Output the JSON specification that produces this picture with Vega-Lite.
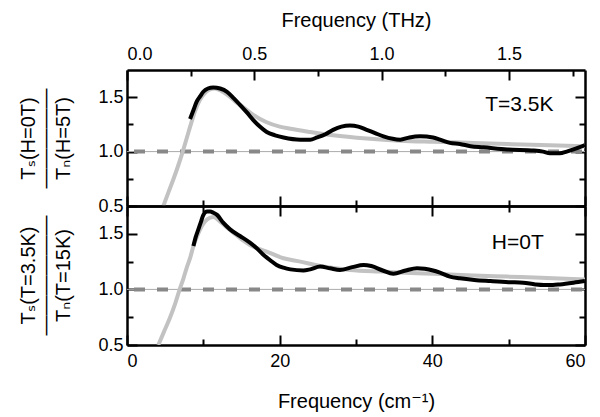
{
  "$schema": "https://vega.github.io/schema/vega-lite/v6.json",
  "autosize": {"type": "none"},
  "padding": {"left": 127, "top": 70, "right": 473, "bottom": 347},
  "bounds": "flush",
  "spacing": 0,
  "config": {
    "font": "Liberation Sans, DejaVu Sans",
    "view": {"stroke": null},
    "axis": {
      "domainColor": "black", "domainWidth": 2.5, "tickColor": "black", "tickWidth": 2,
      "grid": false, "labelFont": "Liberation Sans, DejaVu Sans", "labelFontSize": 18, "labelColor": "black",
      "titleFont": "Liberation Sans, DejaVu Sans", "titleFontWeight": "normal", "titleColor": "black", "titleFontSize": 20
    }
  },
  "datasets": {
    "one": [{"level": 1}],
    "curves": [
      {"panel": "top", "s": "theory", "x": 4.76, "y": 0.5},
      {"panel": "top", "s": "theory", "x": 5.45, "y": 0.63},
      {"panel": "top", "s": "theory", "x": 6.1, "y": 0.75},
      {"panel": "top", "s": "theory", "x": 6.7, "y": 0.87},
      {"panel": "top", "s": "theory", "x": 7.3, "y": 1.0},
      {"panel": "top", "s": "theory", "x": 7.85, "y": 1.13},
      {"panel": "top", "s": "theory", "x": 8.4, "y": 1.26},
      {"panel": "top", "s": "theory", "x": 8.95, "y": 1.38},
      {"panel": "top", "s": "theory", "x": 9.5, "y": 1.47},
      {"panel": "top", "s": "theory", "x": 10.1, "y": 1.53},
      {"panel": "top", "s": "theory", "x": 10.8, "y": 1.57},
      {"panel": "top", "s": "theory", "x": 11.5, "y": 1.58},
      {"panel": "top", "s": "theory", "x": 12.3, "y": 1.56},
      {"panel": "top", "s": "theory", "x": 13.2, "y": 1.52},
      {"panel": "top", "s": "theory", "x": 14.2, "y": 1.46},
      {"panel": "top", "s": "theory", "x": 15.2, "y": 1.41},
      {"panel": "top", "s": "theory", "x": 16.5, "y": 1.34},
      {"panel": "top", "s": "theory", "x": 18.3, "y": 1.27},
      {"panel": "top", "s": "theory", "x": 20.0, "y": 1.23},
      {"panel": "top", "s": "theory", "x": 21.4, "y": 1.21},
      {"panel": "top", "s": "theory", "x": 24.0, "y": 1.18},
      {"panel": "top", "s": "theory", "x": 27.0, "y": 1.15},
      {"panel": "top", "s": "theory", "x": 31.4, "y": 1.12},
      {"panel": "top", "s": "theory", "x": 35.8, "y": 1.1},
      {"panel": "top", "s": "theory", "x": 40.1, "y": 1.09},
      {"panel": "top", "s": "theory", "x": 45.4, "y": 1.08},
      {"panel": "top", "s": "theory", "x": 49.8, "y": 1.07},
      {"panel": "top", "s": "theory", "x": 54.2, "y": 1.06},
      {"panel": "top", "s": "theory", "x": 60, "y": 1.05},
      {"panel": "top", "s": "data", "x": 8.26, "y": 1.3},
      {"panel": "top", "s": "data", "x": 8.7, "y": 1.38},
      {"panel": "top", "s": "data", "x": 9.13, "y": 1.46},
      {"panel": "top", "s": "data", "x": 9.6, "y": 1.51},
      {"panel": "top", "s": "data", "x": 10.0, "y": 1.55},
      {"panel": "top", "s": "data", "x": 10.6, "y": 1.58},
      {"panel": "top", "s": "data", "x": 11.3, "y": 1.59},
      {"panel": "top", "s": "data", "x": 12.2, "y": 1.58},
      {"panel": "top", "s": "data", "x": 13.1, "y": 1.55},
      {"panel": "top", "s": "data", "x": 14.0, "y": 1.49},
      {"panel": "top", "s": "data", "x": 14.8, "y": 1.43},
      {"panel": "top", "s": "data", "x": 15.7, "y": 1.36},
      {"panel": "top", "s": "data", "x": 16.55, "y": 1.29},
      {"panel": "top", "s": "data", "x": 17.4, "y": 1.23},
      {"panel": "top", "s": "data", "x": 18.3, "y": 1.18},
      {"panel": "top", "s": "data", "x": 19.4, "y": 1.15},
      {"panel": "top", "s": "data", "x": 20.5, "y": 1.13},
      {"panel": "top", "s": "data", "x": 22.7, "y": 1.11},
      {"panel": "top", "s": "data", "x": 24.0, "y": 1.11},
      {"panel": "top", "s": "data", "x": 24.9, "y": 1.13},
      {"panel": "top", "s": "data", "x": 26.0, "y": 1.16},
      {"panel": "top", "s": "data", "x": 27.0, "y": 1.2},
      {"panel": "top", "s": "data", "x": 28.1, "y": 1.23},
      {"panel": "top", "s": "data", "x": 29.2, "y": 1.24},
      {"panel": "top", "s": "data", "x": 30.3, "y": 1.23},
      {"panel": "top", "s": "data", "x": 31.4, "y": 1.2},
      {"panel": "top", "s": "data", "x": 32.5, "y": 1.17},
      {"panel": "top", "s": "data", "x": 33.6, "y": 1.14},
      {"panel": "top", "s": "data", "x": 35.8, "y": 1.11},
      {"panel": "top", "s": "data", "x": 37.0, "y": 1.13},
      {"panel": "top", "s": "data", "x": 38.4, "y": 1.14},
      {"panel": "top", "s": "data", "x": 40.1, "y": 1.13},
      {"panel": "top", "s": "data", "x": 41.0, "y": 1.11},
      {"panel": "top", "s": "data", "x": 42.3, "y": 1.08},
      {"panel": "top", "s": "data", "x": 43.6, "y": 1.07},
      {"panel": "top", "s": "data", "x": 45.0, "y": 1.05},
      {"panel": "top", "s": "data", "x": 46.7, "y": 1.04},
      {"panel": "top", "s": "data", "x": 49.8, "y": 1.02},
      {"panel": "top", "s": "data", "x": 53.3, "y": 1.01},
      {"panel": "top", "s": "data", "x": 54.5, "y": 1.0},
      {"panel": "top", "s": "data", "x": 55.4, "y": 0.985},
      {"panel": "top", "s": "data", "x": 56.7, "y": 0.985},
      {"panel": "top", "s": "data", "x": 57.6, "y": 1.0},
      {"panel": "top", "s": "data", "x": 58.5, "y": 1.02},
      {"panel": "top", "s": "data", "x": 60, "y": 1.06},
      {"panel": "bottom", "s": "theory", "x": 4.1, "y": 0.5},
      {"panel": "bottom", "s": "theory", "x": 4.85, "y": 0.62},
      {"panel": "bottom", "s": "theory", "x": 5.6, "y": 0.74},
      {"panel": "bottom", "s": "theory", "x": 6.3, "y": 0.87},
      {"panel": "bottom", "s": "theory", "x": 6.9, "y": 1.0},
      {"panel": "bottom", "s": "theory", "x": 7.4, "y": 1.1},
      {"panel": "bottom", "s": "theory", "x": 7.8, "y": 1.19},
      {"panel": "bottom", "s": "theory", "x": 8.3, "y": 1.29},
      {"panel": "bottom", "s": "theory", "x": 8.7, "y": 1.39},
      {"panel": "bottom", "s": "theory", "x": 9.2, "y": 1.48},
      {"panel": "bottom", "s": "theory", "x": 9.8, "y": 1.57},
      {"panel": "bottom", "s": "theory", "x": 10.5, "y": 1.63},
      {"panel": "bottom", "s": "theory", "x": 11.3, "y": 1.65},
      {"panel": "bottom", "s": "theory", "x": 12.2, "y": 1.61},
      {"panel": "bottom", "s": "theory", "x": 13.2, "y": 1.55},
      {"panel": "bottom", "s": "theory", "x": 14.3, "y": 1.49},
      {"panel": "bottom", "s": "theory", "x": 15.2, "y": 1.44},
      {"panel": "bottom", "s": "theory", "x": 16.1, "y": 1.4},
      {"panel": "bottom", "s": "theory", "x": 18.3, "y": 1.34},
      {"panel": "bottom", "s": "theory", "x": 20.5, "y": 1.28},
      {"panel": "bottom", "s": "theory", "x": 22.7, "y": 1.25},
      {"panel": "bottom", "s": "theory", "x": 25.3, "y": 1.21},
      {"panel": "bottom", "s": "theory", "x": 29.2, "y": 1.175},
      {"panel": "bottom", "s": "theory", "x": 33.6, "y": 1.16},
      {"panel": "bottom", "s": "theory", "x": 38.0, "y": 1.145},
      {"panel": "bottom", "s": "theory", "x": 42.3, "y": 1.135},
      {"panel": "bottom", "s": "theory", "x": 45.4, "y": 1.125},
      {"panel": "bottom", "s": "theory", "x": 49.8, "y": 1.115},
      {"panel": "bottom", "s": "theory", "x": 54.2, "y": 1.105},
      {"panel": "bottom", "s": "theory", "x": 60, "y": 1.09},
      {"panel": "bottom", "s": "data", "x": 8.7, "y": 1.39},
      {"panel": "bottom", "s": "data", "x": 9.0, "y": 1.47},
      {"panel": "bottom", "s": "data", "x": 9.35, "y": 1.54},
      {"panel": "bottom", "s": "data", "x": 9.7, "y": 1.61},
      {"panel": "bottom", "s": "data", "x": 10.0, "y": 1.67},
      {"panel": "bottom", "s": "data", "x": 10.5, "y": 1.7},
      {"panel": "bottom", "s": "data", "x": 10.9, "y": 1.7},
      {"panel": "bottom", "s": "data", "x": 11.3, "y": 1.69},
      {"panel": "bottom", "s": "data", "x": 11.8, "y": 1.67},
      {"panel": "bottom", "s": "data", "x": 12.6, "y": 1.6},
      {"panel": "bottom", "s": "data", "x": 13.5, "y": 1.54},
      {"panel": "bottom", "s": "data", "x": 14.8, "y": 1.48},
      {"panel": "bottom", "s": "data", "x": 16.1, "y": 1.42},
      {"panel": "bottom", "s": "data", "x": 17.0, "y": 1.37},
      {"panel": "bottom", "s": "data", "x": 17.9, "y": 1.31},
      {"panel": "bottom", "s": "data", "x": 18.8, "y": 1.26},
      {"panel": "bottom", "s": "data", "x": 19.6, "y": 1.22},
      {"panel": "bottom", "s": "data", "x": 20.5, "y": 1.195},
      {"panel": "bottom", "s": "data", "x": 21.4, "y": 1.18},
      {"panel": "bottom", "s": "data", "x": 23.1, "y": 1.17},
      {"panel": "bottom", "s": "data", "x": 24.0, "y": 1.18},
      {"panel": "bottom", "s": "data", "x": 25.3, "y": 1.205},
      {"panel": "bottom", "s": "data", "x": 26.6, "y": 1.19},
      {"panel": "bottom", "s": "data", "x": 27.9, "y": 1.175},
      {"panel": "bottom", "s": "data", "x": 29.5, "y": 1.2},
      {"panel": "bottom", "s": "data", "x": 31.0, "y": 1.22},
      {"panel": "bottom", "s": "data", "x": 32.0, "y": 1.21},
      {"panel": "bottom", "s": "data", "x": 33.5, "y": 1.17},
      {"panel": "bottom", "s": "data", "x": 34.9, "y": 1.14},
      {"panel": "bottom", "s": "data", "x": 36.5, "y": 1.17},
      {"panel": "bottom", "s": "data", "x": 38.0, "y": 1.19},
      {"panel": "bottom", "s": "data", "x": 39.0, "y": 1.185},
      {"panel": "bottom", "s": "data", "x": 40.1, "y": 1.17},
      {"panel": "bottom", "s": "data", "x": 41.0, "y": 1.15},
      {"panel": "bottom", "s": "data", "x": 42.3, "y": 1.115},
      {"panel": "bottom", "s": "data", "x": 43.6, "y": 1.1},
      {"panel": "bottom", "s": "data", "x": 45.5, "y": 1.085},
      {"panel": "bottom", "s": "data", "x": 47.6, "y": 1.075},
      {"panel": "bottom", "s": "data", "x": 50.0, "y": 1.065},
      {"panel": "bottom", "s": "data", "x": 51.9, "y": 1.06},
      {"panel": "bottom", "s": "data", "x": 53.5, "y": 1.045},
      {"panel": "bottom", "s": "data", "x": 54.6, "y": 1.04},
      {"panel": "bottom", "s": "data", "x": 55.8, "y": 1.04},
      {"panel": "bottom", "s": "data", "x": 56.7, "y": 1.045},
      {"panel": "bottom", "s": "data", "x": 58.5, "y": 1.06},
      {"panel": "bottom", "s": "data", "x": 60, "y": 1.075}
    ],
    "notes": [
      {"panel": "top", "x": 51.4, "y": 1.427, "label": "T=3.5K"},
      {"panel": "bottom", "x": 51.2, "y": 1.42, "label": "H=0T"}
    ]
  },
  "vconcat": [
    {
      "width": 458,
      "height": 136,
      "resolve": {"axis": {"x": "independent", "y": "independent"}},
      "layer": [
        {
          "data": {"name": "one"},
          "mark": {"type": "rule", "color": "#aaaaaa", "strokeWidth": 1},
          "encoding": {"y": {"field": "level", "type": "quantitative", "scale": {"domain": [0.5, 1.75], "nice": false, "zero": false}, "axis": null}}
        },
        {
          "data": {"name": "one"},
          "mark": {"type": "rule", "color": "#888888", "strokeWidth": 4, "strokeDash": [11, 12], "strokeDashOffset": -3},
          "encoding": {"y": {"field": "level", "type": "quantitative", "scale": {"domain": [0.5, 1.75], "nice": false, "zero": false}, "axis": null}}
        },
        {
          "data": {"name": "curves"},
          "transform": [{"filter": "datum.panel === 'top' && datum.s === 'theory'"}],
          "mark": {"type": "line", "color": "#c2c2c2", "strokeWidth": 4, "interpolate": "monotone", "clip": true},
          "encoding": {
            "x": {"field": "x", "type": "quantitative", "scale": {"domain": [0, 60], "nice": false, "zero": false},
              "axis": {"orient": "bottom", "title": null, "labels": false, "values": [0, 10, 20, 30, 40, 50, 60],
                "tickSize": {"condition": {"test": "datum.value % 20 === 0", "value": -10}, "value": -6}}},
            "y": {"field": "y", "type": "quantitative", "scale": {"domain": [0.5, 1.75], "nice": false, "zero": false},
              "axis": {"orient": "left", "values": [0.5, 0.75, 1.0, 1.25, 1.5],
                "labelExpr": "(datum.value * 2) % 1 === 0 ? format(datum.value, '.1f') : ''",
                "labelPadding": 14,
                "tickSize": {"condition": {"test": "(datum.value * 2) % 1 === 0", "value": -10}, "value": -6},
                "title": ["Tₛ(H=0T)", "—————", "Tₙ(H=5T)"],
                "titleLineHeight": 17.5, "titleBaseline": "middle", "titleAngle": 270,
                "titleX": -99, "titleY": 68, "titleFontSize": 20}}
          }
        },
        {
          "data": {"name": "curves"},
          "transform": [{"filter": "datum.panel === 'top' && datum.s === 'data'"}],
          "mark": {"type": "line", "color": "black", "strokeWidth": 4, "interpolate": "monotone", "clip": true},
          "encoding": {
            "x": {"field": "x", "type": "quantitative", "scale": {"domain": [0, 60], "nice": false, "zero": false},
              "axis": {"orient": "top", "title": "Frequency (THz)", "titlePadding": 15,
                "values": [0, 8.339, 16.678, 25.017, 33.356, 41.695, 50.034, 58.373],
                "labelExpr": "round(datum.value / 33.356 * 4) % 2 === 0 ? format(datum.value / 33.356, '.1f') : ''",
                "labelPadding": 17,
                "tickSize": {"condition": {"test": "round(datum.value / 33.356 * 4) % 2 === 0", "value": -10}, "value": -6}}},
            "y": {"field": "y", "type": "quantitative", "scale": {"domain": [0.5, 1.75], "nice": false, "zero": false},
              "axis": {"orient": "right", "title": null, "labels": false, "values": [0.5, 0.75, 1.0, 1.25, 1.5],
                "tickSize": {"condition": {"test": "(datum.value * 2) % 1 === 0", "value": -10}, "value": -6}}}
          }
        },
        {
          "data": {"name": "notes"},
          "transform": [{"filter": "datum.panel === 'top'"}],
          "mark": {"type": "text", "fontSize": 21, "align": "center", "baseline": "middle", "color": "black"},
          "encoding": {
            "x": {"field": "x", "type": "quantitative", "scale": {"domain": [0, 60], "nice": false, "zero": false}, "axis": null},
            "y": {"field": "y", "type": "quantitative", "scale": {"domain": [0.5, 1.75], "nice": false, "zero": false}, "axis": null},
            "text": {"field": "label"}
          }
        }
      ]
    },
    {
      "width": 458,
      "height": 139,
      "resolve": {"axis": {"x": "independent", "y": "independent"}},
      "layer": [
        {
          "data": {"name": "one"},
          "mark": {"type": "rule", "color": "#aaaaaa", "strokeWidth": 1},
          "encoding": {"y": {"field": "level", "type": "quantitative", "scale": {"domain": [0.5, 1.75], "nice": false, "zero": false}, "axis": null}}
        },
        {
          "data": {"name": "one"},
          "mark": {"type": "rule", "color": "#888888", "strokeWidth": 4, "strokeDash": [11, 12], "strokeDashOffset": -3},
          "encoding": {"y": {"field": "level", "type": "quantitative", "scale": {"domain": [0.5, 1.75], "nice": false, "zero": false}, "axis": null}}
        },
        {
          "data": {"name": "curves"},
          "transform": [{"filter": "datum.panel === 'bottom' && datum.s === 'theory'"}],
          "mark": {"type": "line", "color": "#c2c2c2", "strokeWidth": 4, "interpolate": "monotone", "clip": true},
          "encoding": {
            "x": {"field": "x", "type": "quantitative", "scale": {"domain": [0, 60], "nice": false, "zero": false},
              "axis": {"orient": "bottom", "title": "Frequency (cm⁻¹)", "titlePadding": 21, "values": [0, 10, 20, 30, 40, 50, 60],
                "labelExpr": "datum.value % 20 === 0 ? datum.label : ''",
                "labelPadding": 17,
                "tickSize": {"condition": {"test": "datum.value % 20 === 0", "value": -10}, "value": -6}}},
            "y": {"field": "y", "type": "quantitative", "scale": {"domain": [0.5, 1.75], "nice": false, "zero": false},
              "axis": {"orient": "left", "values": [0.5, 0.75, 1.0, 1.25, 1.5],
                "labelExpr": "(datum.value * 2) % 1 === 0 ? format(datum.value, '.1f') : ''",
                "labelPadding": 14,
                "tickSize": {"condition": {"test": "(datum.value * 2) % 1 === 0", "value": -10}, "value": -6},
                "title": ["Tₛ(T=3.5K)", "——————", "Tₙ(T=15K)"],
                "titleLineHeight": 17.5, "titleBaseline": "middle", "titleAngle": 270,
                "titleX": -99, "titleY": 69, "titleFontSize": 20}}
          }
        },
        {
          "data": {"name": "curves"},
          "transform": [{"filter": "datum.panel === 'bottom' && datum.s === 'data'"}],
          "mark": {"type": "line", "color": "black", "strokeWidth": 4, "interpolate": "monotone", "clip": true},
          "encoding": {
            "x": {"field": "x", "type": "quantitative", "scale": {"domain": [0, 60], "nice": false, "zero": false},
              "axis": {"orient": "top", "title": null, "labels": false, "values": [0, 10, 20, 30, 40, 50, 60],
                "tickSize": {"condition": {"test": "datum.value % 20 === 0", "value": -10}, "value": -6}}},
            "y": {"field": "y", "type": "quantitative", "scale": {"domain": [0.5, 1.75], "nice": false, "zero": false},
              "axis": {"orient": "right", "title": null, "labels": false, "values": [0.5, 0.75, 1.0, 1.25, 1.5],
                "tickSize": {"condition": {"test": "(datum.value * 2) % 1 === 0", "value": -10}, "value": -6}}}
          }
        },
        {
          "data": {"name": "notes"},
          "transform": [{"filter": "datum.panel === 'bottom'"}],
          "mark": {"type": "text", "fontSize": 21, "align": "center", "baseline": "middle", "color": "black"},
          "encoding": {
            "x": {"field": "x", "type": "quantitative", "scale": {"domain": [0, 60], "nice": false, "zero": false}, "axis": null},
            "y": {"field": "y", "type": "quantitative", "scale": {"domain": [0.5, 1.75], "nice": false, "zero": false}, "axis": null},
            "text": {"field": "label"}
          }
        }
      ]
    }
  ]
}
